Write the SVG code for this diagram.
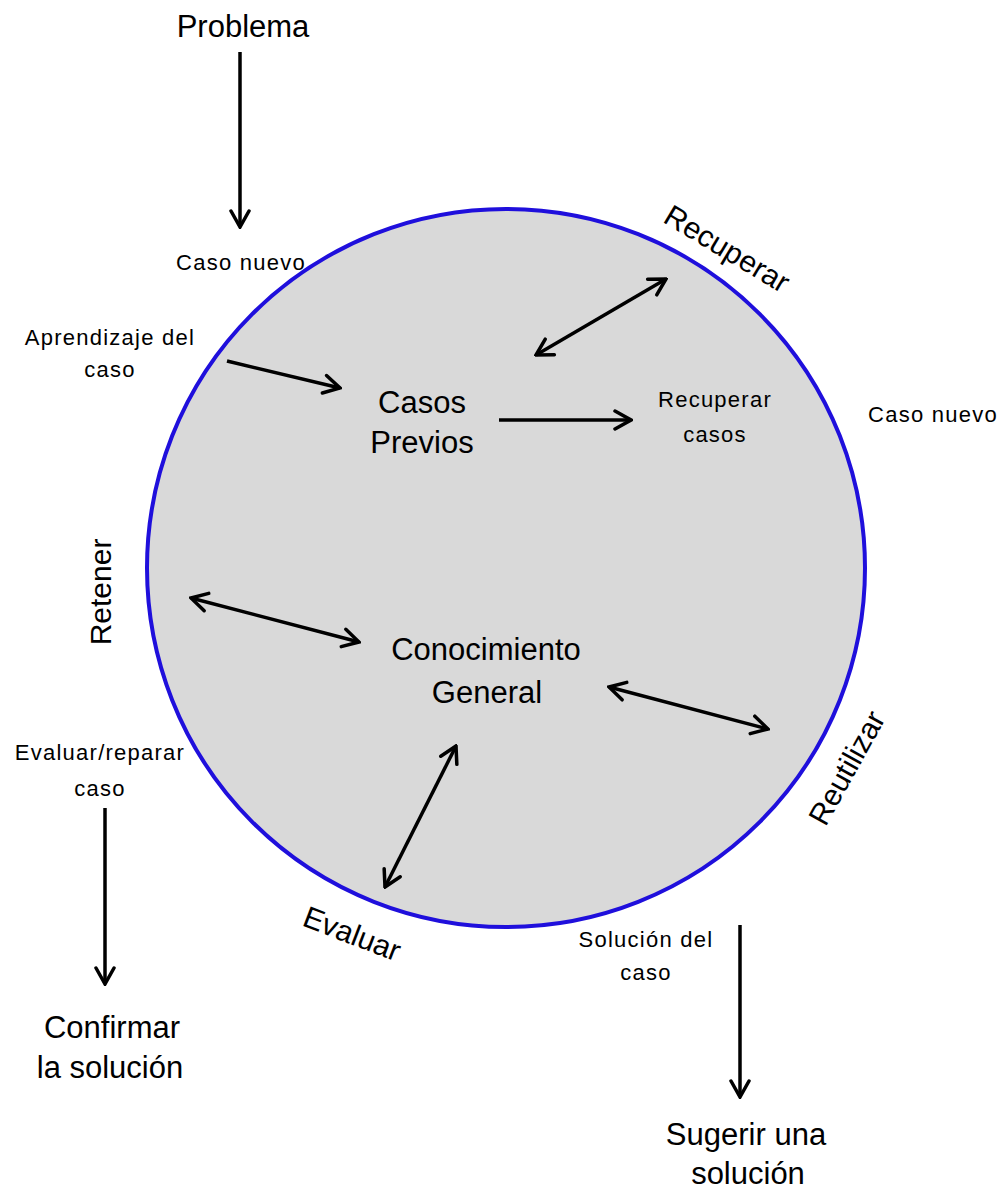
<svg xmlns="http://www.w3.org/2000/svg" width="1003" height="1192" viewBox="0 0 1003 1192">
<style>
text{font-family:"Liberation Sans",Arial,sans-serif;fill:#000;text-anchor:middle}
.big{font-size:31px}
.rot{font-size:30px}
.sm{font-size:22px;letter-spacing:1.25px}
.ar{fill:none;stroke:#000;stroke-width:3.5;marker-end:url(#ah)}
.da{fill:none;stroke:#000;stroke-width:3.5;marker-start:url(#ah);marker-end:url(#ah)}
</style>
<defs>
<marker id="ah" viewBox="-20 -12 22 24" markerWidth="22" markerHeight="24" refX="0" refY="0" orient="auto-start-reverse" markerUnits="userSpaceOnUse">
<path d="M-16,-9 L0,0 L-16,9" fill="none" stroke="#000" stroke-width="3.5" stroke-linecap="round" stroke-linejoin="miter"/>
</marker>
</defs>
<rect width="1003" height="1192" fill="#fff"/>
<g id="cycle">
<circle cx="506" cy="568" r="359" fill="#d9d9d9" stroke="#1f0fdc" stroke-width="4"/>
</g>
<g id="problema"><text class="big" x="243" y="37">Problema</text></g>
<g id="caso-nuevo-in"><text class="sm" x="241" y="270">Caso nuevo</text></g>
<g id="aprendizaje"><text class="sm" x="110" y="345">Aprendizaje del</text><text class="sm" x="110" y="377">caso</text></g>
<g id="casos-previos"><text class="big" x="422" y="413">Casos</text><text class="big" x="422" y="453">Previos</text></g>
<g id="recuperar-casos"><text class="sm" x="715" y="407">Recuperar</text><text class="sm" x="715" y="442">casos</text></g>
<g id="caso-nuevo-out"><text class="sm" x="933" y="422">Caso nuevo</text></g>
<g id="recuperar"><text class="rot" transform="translate(727,249) rotate(31)" x="0" y="10">Recuperar</text></g>
<g id="retener"><text class="rot" transform="translate(101,592) rotate(-90)" x="0" y="10">Retener</text></g>
<g id="conocimiento"><text class="big" x="486" y="660">Conocimiento</text><text class="big" x="487" y="703">General</text></g>
<g id="reutilizar"><text class="rot" transform="translate(847,768) rotate(-61)" x="0" y="10">Reutilizar</text></g>
<g id="evaluar"><text class="rot" transform="translate(352,934) rotate(21)" x="0" y="10">Evaluar</text></g>
<g id="evaluar-reparar"><text class="sm" x="100" y="760">Evaluar/reparar</text><text class="sm" x="100" y="796">caso</text></g>
<g id="confirmar"><text class="big" x="112" y="1038">Confirmar</text><text class="big" x="110" y="1078">la solución</text></g>
<g id="solucion-caso"><text class="sm" x="646" y="947">Solución del</text><text class="sm" x="646" y="980">caso</text></g>
<g id="sugerir"><text class="big" x="746" y="1145">Sugerir una</text><text class="big" x="748" y="1184">solución</text></g>
<g id="connectors">
<line class="ar" x1="240" y1="52" x2="240" y2="227"/>
<line class="ar" x1="227" y1="361" x2="340" y2="388"/>
<line class="ar" x1="499" y1="420" x2="631" y2="420"/>
<line class="da" x1="536" y1="355" x2="666" y2="279"/>
<line class="da" x1="191" y1="598" x2="359" y2="642"/>
<line class="da" x1="609" y1="687" x2="768" y2="729"/>
<line class="da" x1="456" y1="746" x2="385" y2="887"/>
<line class="ar" x1="105" y1="808" x2="105" y2="984"/>
<line class="ar" x1="740" y1="925" x2="740" y2="1097"/>
</g>
</svg>
